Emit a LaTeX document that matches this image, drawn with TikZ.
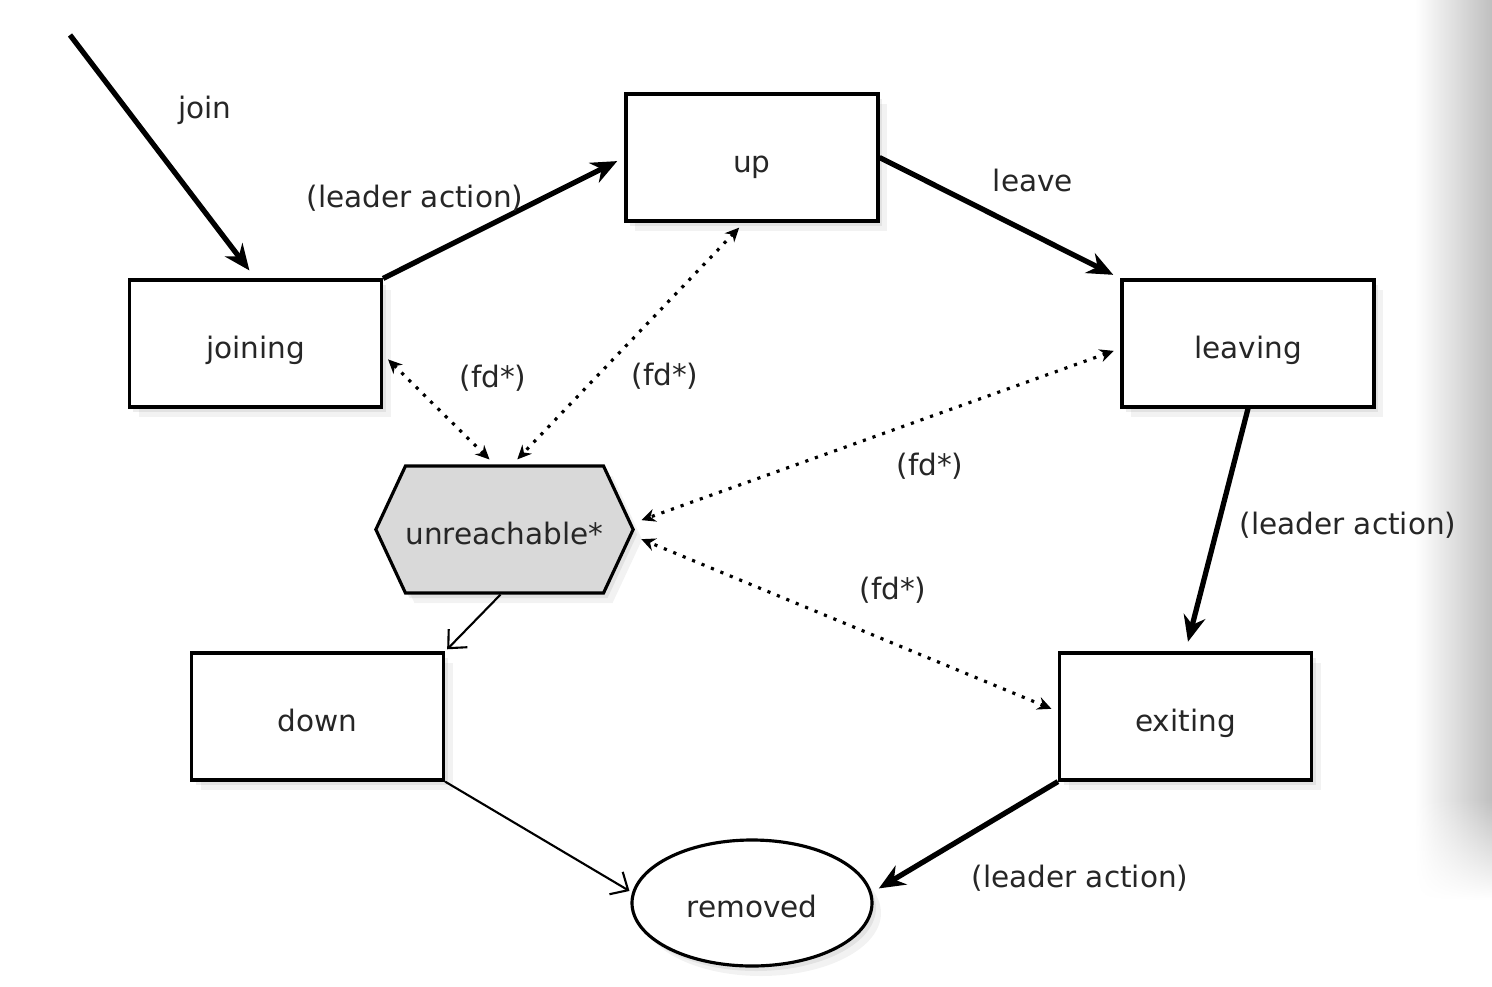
\documentclass[tikz,border=0pt]{standalone}
\usepackage{fontspec}
\setmainfont{DejaVu Sans}
\usetikzlibrary{arrows.meta,shapes,shadows,fadings}
\tikzset{
    state/.style={draw=black, line width=0.9pt, fill=white, text=black!85,
        minimum width=2.52cm, minimum height=1.27cm, inner sep=0pt,
        text height=1.1em, text depth=0.25em,
        drop shadow={shadow xshift=0.04cm, shadow yshift=-0.05cm, opacity=0.14},
        drop shadow={shadow xshift=0.09cm, shadow yshift=-0.10cm, opacity=0.10}},
    hexstate/.style={state, signal, signal to=east and west,
        signal pointer angle=130, fill=black!15},
    endstate/.style={state, ellipse, minimum width=2.4cm, minimum height=1.26cm},
    bigarrow/.style={draw=black, line width=1.5pt,
        -{Stealth[length=2.6mm,width=2.2mm]}, shorten >=0.08cm},
    smallarrow/.style={draw=black, line width=0.6pt,
        -{Straight Barb[length=1.4mm,width=2.6mm]}, shorten >=0.03cm},
    fdarrow/.style={draw=black, line width=0.9pt, dash pattern=on 0.9pt off 2pt,
        {Stealth[length=1.4mm,width=1.3mm]}-{Stealth[length=1.4mm,width=1.3mm]},
        shorten <=0.07cm, shorten >=0.07cm},
    lbl/.style={inner sep=1pt, text=black!85},
}
\tikzfading[name=edgefade, top color=transparent!0, bottom color=transparent!100]

\begin{document}
\begin{tikzpicture}[font=\fontsize{8.4}{10}\selectfont]
	\useasboundingbox (0,0) rectangle (14.92,9.86);
	% page edge
	\shade[left color=white, right color=black!25] (14.15,1.86) rectangle (14.92,9.86);
	\shade[left color=white, right color=black!25, path fading=edgefade] (14.15,0.86) rectangle (14.92,1.86);
	% states
	\node[state] (up) at (7.52,8.285) {up};
	\node[state] (joining) at (2.555,6.425) {joining};
	\node[state] (leaving) at (12.48,6.425) {leaving};
	\node[hexstate] (unreach) at (5.045,4.565) {unreachable*};
	\node[state] (down) at (3.175,2.695) {down};
	\node[state] (exiting) at (11.855,2.695) {exiting};
	\node[endstate] (removed) at (7.52,0.83) {removed};
	\coordinate (start) at (0.70,9.51);
	% transitions
	\draw[bigarrow, shorten >=0.1cm] (start) -- (joining.north);
	\draw[bigarrow] (joining.north east) -- (up.west);
	\draw[bigarrow] (up.east) -- (leaving.north west);
	\draw[bigarrow, shorten >=0.1cm] (leaving.south) -- (exiting.north);
	\draw[bigarrow] (exiting.south west) -- (removed.5);
	\draw[smallarrow] (down.south east) -- (removed.175);
	\draw[smallarrow] ([xshift=-0.4mm]unreach.south) -- (down.north east);
	\draw[fdarrow] ([yshift=-1.1mm]joining.east) -- ([xshift=-1mm]unreach.north);
	\draw[fdarrow] ([xshift=-0.8mm]up.south) -- ([xshift=0.8mm]unreach.north);
	\draw[fdarrow] ([yshift=-0.5mm]leaving.west) -- ([yshift=0.7mm]unreach.east);
	\draw[fdarrow] ([yshift=0.5mm]exiting.west) -- ([yshift=-0.7mm]unreach.east);
	% labels
	\node[lbl] (ljoin) at (2.05,8.76) {join};
	\node[lbl] (lup) at (4.15,7.88) {(leader action)};
	\node[lbl] (lleave) at (10.33,8.06) {leave};
	\node[lbl] (lexit) at (13.48,4.61) {(leader action)};
	\node[lbl] (lremove) at (10.80,1.08) {(leader action)};
	\node[lbl] (lfda) at (4.93,6.08) {(fd*)};
	\node[lbl] (lfdb) at (6.65,6.10) {(fd*)};
	\node[lbl] (lfdc) at (9.30,5.20) {(fd*)};
	\node[lbl] (lfdd) at (8.93,3.96) {(fd*)};
\end{tikzpicture}
\end{document}
